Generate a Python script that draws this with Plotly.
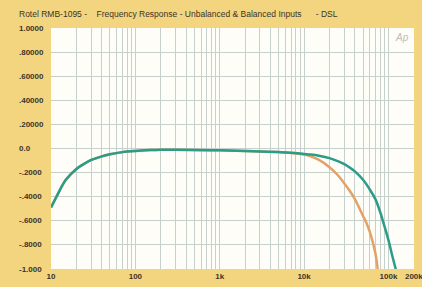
import plotly.graph_objects as go
import numpy as np

# ---- data ----
freq_teal = [10, 12, 15, 20, 25, 30, 40, 50, 70, 100, 150, 200, 300, 500, 1000, 2000,
             3000, 5000, 7000, 10000, 12000, 15000, 20000, 25000, 30000, 35000, 40000,
             50000, 60000, 70000, 80000, 85000, 100000, 110000, 124000]
level_teal = [-0.49, -0.38, -0.26, -0.17, -0.125, -0.095, -0.065, -0.048, -0.03, -0.02,
              -0.013, -0.01, -0.01, -0.012, -0.015, -0.02, -0.025, -0.03, -0.035, -0.045,
              -0.05, -0.06, -0.08, -0.105, -0.13, -0.16, -0.19, -0.26, -0.34, -0.42,
              -0.53, -0.59, -0.76, -0.88, -1.02]

freq_orange = [10, 12, 15, 20, 25, 30, 40, 50, 70, 100, 150, 200, 300, 500, 1000, 2000,
               3000, 5000, 7000, 10000, 12000, 15000, 20000, 25000, 30000, 35000, 40000,
               50000, 55000, 60000, 70000, 75000]
level_orange = [-0.49, -0.38, -0.26, -0.17, -0.125, -0.095, -0.065, -0.048, -0.03, -0.02,
                -0.013, -0.01, -0.01, -0.012, -0.015, -0.02, -0.025, -0.03, -0.037, -0.05,
                -0.065, -0.095, -0.155, -0.22, -0.29, -0.355, -0.42, -0.56, -0.62, -0.69,
                -0.87, -1.02]

x_tick_vals = [10, 100, 1000, 10000, 100000, 200000]
x_tick_text = ["10", "100", "1k", "10k", "100k", "200k"]
y_tick_vals = [1.0, 0.8, 0.6, 0.4, 0.2, 0.0, -0.2, -0.4, -0.6, -0.8, -1.0]
y_tick_text = ["1.0000", ".80000", ".60000", ".40000", ".20000", "0.0",
               "-.2000", "-.4000", "-.6000", "-.8000", "-1.000"]
title_text = "Rotel RMB-1095 -    Frequency Response - Unbalanced & Balanced Inputs      - DSL"

# minor grid positions (1..9 per decade)
grid_vals = []
for d in [10, 100, 1000, 10000, 100000]:
    for m in range(1, 10):
        v = d * m
        if v <= 200000:
            grid_vals.append(v)
grid_text = ["<b>" + x_tick_text[x_tick_vals.index(v)] + "</b>" if v in x_tick_vals else ""
             for v in grid_vals]

paper = "#F4D57F"
grid = "#C6D0CC"
txt = "#3a3428"
font_fam = "Liberation Sans, Arial"

fig = go.Figure()
fig.add_trace(go.Scatter(x=freq_orange, y=level_orange, mode="lines",
                         line=dict(color="#E2A268", width=2.5, shape="spline"),
                         hoverinfo="skip"))
fig.add_trace(go.Scatter(x=freq_teal, y=level_teal, mode="lines",
                         line=dict(color="#2A9C87", width=2.5, shape="spline"),
                         hoverinfo="skip"))

fig.update_xaxes(type="log", range=[1, np.log10(200800)],
                 tickvals=grid_vals, ticktext=grid_text,
                 showgrid=True, gridcolor=grid, gridwidth=1,
                 ticks="", zeroline=False, showline=False,
                 ticklabeloverflow="allow", automargin=False,
                 tickfont=dict(family=font_fam, size=8, color=txt),
                 ticklabelstandoff=1)
fig.update_yaxes(range=[-1.0, 1.0], tickvals=y_tick_vals, showticklabels=False,
                 showgrid=True, gridcolor=grid, gridwidth=1,
                 zeroline=False, showline=False, ticks="", automargin=False)

annotations = []
for v, t in zip(y_tick_vals, y_tick_text):
    annotations.append(dict(x=-0.094, xref="paper", y=v, yref="y", text="<b>" + t + "</b>",
                            showarrow=False, xanchor="left", yanchor="middle",
                            font=dict(family=font_fam, size=8, color=txt)))
annotations.append(dict(x=-0.094, xref="paper", y=1.0, yref="paper", yshift=14,
                        text=title_text, showarrow=False, xanchor="left", yanchor="middle",
                        font=dict(family=font_fam, size=8.5, color=txt)))
annotations.append(dict(x=0.993, xref="paper", y=0.99, yref="paper", text="<i>Ap</i>",
                        showarrow=False, xanchor="right", yanchor="top",
                        font=dict(family=font_fam, size=10, color="#BDBDB4")))

fig.update_layout(width=422, height=287,
                  margin=dict(l=51, r=8, t=28, b=18),
                  paper_bgcolor=paper, plot_bgcolor="#FEFDF8",
                  showlegend=False, annotations=annotations)

fig.write_html("out.html", config={"displayModeBar": False},
               post_script="document.body.style.margin='0px';document.body.style.background='" + paper + "';")
